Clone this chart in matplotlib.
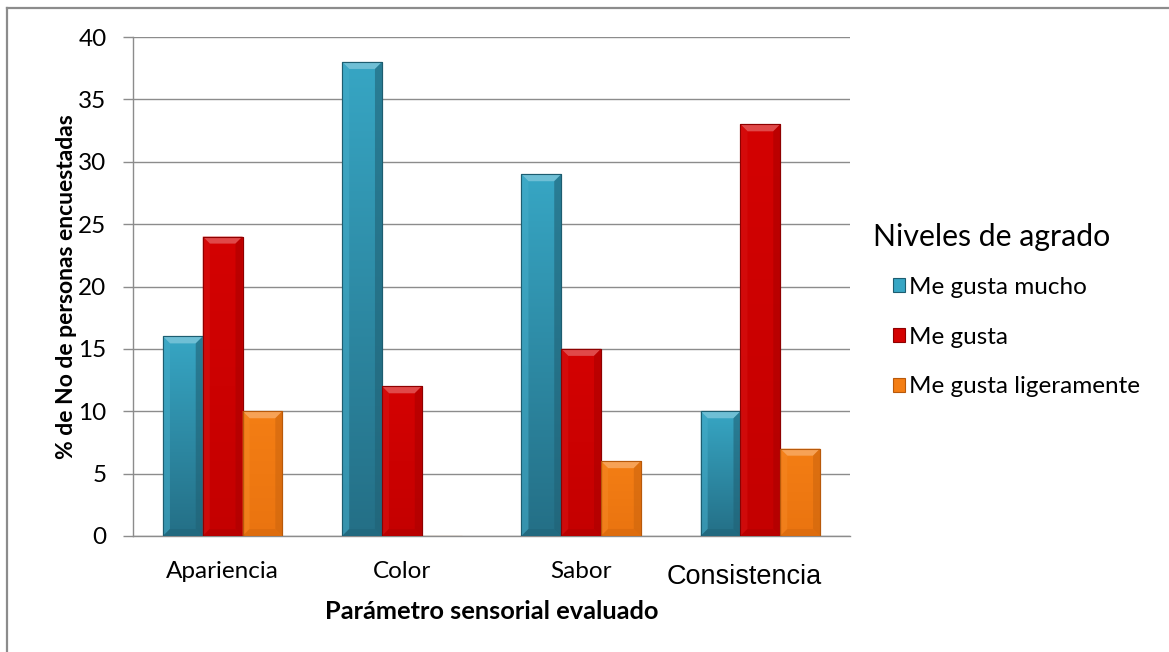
import matplotlib
matplotlib.use("Agg")
import matplotlib.pyplot as plt
import numpy as np
from matplotlib.patches import Patch, Polygon
from matplotlib.colors import LinearSegmentedColormap, to_rgb
from matplotlib.lines import Line2D
from matplotlib.transforms import ScaledTranslation

# Data
categories = ["Apariencia", "Color", "Sabor", "Consistencia"]
series_names = ["Me gusta mucho", "Me gusta", "Me gusta ligeramente"]
mucho = [16, 38, 29, 10]
gusta = [24, 12, 15, 33]
ligeramente = [10, 0, 6, 7]
series_values = [mucho, gusta, ligeramente]
legend_title = "Niveles de agrado"
y_label = "% de No de personas encuestadas"
x_label = "Parámetro sensorial evaluado"
y_ticks = [0, 5, 10, 15, 20, 25, 30, 35, 40]

# Styling: (top colour, bottom colour, edge colour) for each series
styles = [
    ("#37a6c4", "#246f86", "#1d5d70"),
    ("#d40202", "#c40000", "#8e0000"),
    ("#f47e14", "#ea7410", "#b8590a"),
]

plt.rcParams["font.family"] = ["Lato", "DejaVu Sans"]

W, H = 1169, 652
fig = plt.figure(figsize=(W / 100, H / 100), dpi=100)
fig.patch.set_facecolor("white")
ax = fig.add_axes([133 / W, 1 - 536 / H, (850 - 133) / W, (536 - 37) / H])

# Outer frame (left and top edges)
fig.add_artist(Line2D([7 / W, 7 / W], [0, 1 - 8 / H], transform=fig.transFigure,
                      color="#8c8c8c", lw=1.6))
fig.add_artist(Line2D([7 / W, 1], [1 - 8 / H, 1 - 8 / H], transform=fig.transFigure,
                      color="#8c8c8c", lw=1.6))

n_series = len(series_values)
bar_w = 0.222
x = np.arange(len(categories))
ax.set_xlim(-0.5, len(categories) - 0.5)
ax.set_ylim(0, 40)

# px -> data conversions for the bevel size
px_per_x = (850 - 133) / len(categories)
px_per_y = (536 - 37) / 40.0
bev_px = 7.0
bev_x = bev_px / px_per_x
bev_y = bev_px / px_per_y


def lighten(c, f):
    r = np.array(to_rgb(c))
    return tuple(r + (1 - r) * f)


def darken(c, f):
    r = np.array(to_rgb(c))
    return tuple(r * (1 - f))


for i, (vals, (ctop, cbot, cedge)) in enumerate(zip(series_values, styles)):
    offs = (i - (n_series - 1) / 2) * bar_w
    bars = ax.bar(x + offs, vals, width=bar_w, color=cbot, edgecolor=cedge,
                  linewidth=0.8, zorder=3, label=series_names[i])
    cmap = LinearSegmentedColormap.from_list(f"g{i}", [cbot, ctop])
    grad = np.linspace(0, 1, 256).reshape(-1, 1)
    for xc, v, b in zip(x + offs, vals, bars):
        if v <= 0:
            continue
        x0, x1 = xc - bar_w / 2, xc + bar_w / 2
        im = ax.imshow(grad, cmap=cmap, origin="lower", aspect="auto",
                       extent=(x0, x1, 0, v), zorder=3.1)
        im.set_clip_path(b)
        bh = min(bev_y, v / 2)
        # top bevel
        ax.add_patch(Polygon([(x0, v), (x1, v), (x1 - bev_x, v - bh), (x0 + bev_x, v - bh)],
                             closed=True, facecolor=lighten(ctop, 0.28), edgecolor="none",
                             zorder=3.2))
        # left and right bevels
        ax.add_patch(Polygon([(x0, 0), (x0, v), (x0 + bev_x, v - bh), (x0 + bev_x, bh)],
                             closed=True, facecolor=lighten(ctop, 0.06), edgecolor="none",
                             alpha=0.6, zorder=3.2))
        ax.add_patch(Polygon([(x1, 0), (x1, v), (x1 - bev_x, v - bh), (x1 - bev_x, bh)],
                             closed=True, facecolor=darken(cbot, 0.12), edgecolor="none",
                             alpha=0.6, zorder=3.2))
        # bottom bevel
        ax.add_patch(Polygon([(x0, 0), (x1, 0), (x1 - bev_x, bh), (x0 + bev_x, bh)],
                             closed=True, facecolor=darken(cbot, 0.1), edgecolor="none",
                             alpha=0.5, zorder=3.2))
        ax.add_patch(Polygon([(x0, 0), (x0, v), (x1, v), (x1, 0)], closed=True,
                             facecolor="none", edgecolor=cedge, linewidth=0.8, zorder=3.3))

# Axes styling
ax.set_yticks(y_ticks)
ax.set_yticklabels([str(t) for t in y_ticks])
ax.yaxis.grid(True, color="#8c8c8c", linewidth=1.0, zorder=0)
ax.set_axisbelow(True)
for s in ["top", "right"]:
    ax.spines[s].set_visible(False)
ax.spines["left"].set_color("#8c8c8c")
ax.spines["bottom"].set_color("#8c8c8c")
ax.spines["left"].set_linewidth(1.0)
ax.spines["bottom"].set_linewidth(1.0)
ax.tick_params(axis="y", direction="out", length=7, width=1.0, color="#8c8c8c",
               labelsize=17.5, pad=12, labelcolor="black")
ax.tick_params(axis="x", length=0, pad=18, labelsize=17.5)
ax.set_xticks(x)
ax.set_xticklabels(categories)
for lbl in ax.get_xticklabels():
    if lbl.get_text() == "Consistencia":
        lbl.set_fontfamily(["Liberation Sans", "DejaVu Sans"])
        lbl.set_fontsize(19.5)
        lbl.set_transform(lbl.get_transform() +
                          ScaledTranslation(-16 / 100, -3 / 100, fig.dpi_scale_trans))

ax.set_ylabel(y_label, fontsize=16.5, fontweight="bold", labelpad=1)
ax.set_xlabel(x_label, fontsize=18.3, fontweight="bold", labelpad=7)

# Legend: title placed on its own, entries below it
fig.text(873 / W, 1 - 237 / H, legend_title, fontsize=21.8, va="center", ha="left")
handles = [Patch(facecolor=s[0], edgecolor=s[2], linewidth=0.8) for s in styles]
leg = fig.legend(handles, series_names, loc="upper left",
                 bbox_to_anchor=(893 / W, 1 - 277 / H), frameon=False,
                 fontsize=17.5, handlelength=0.5, handleheight=0.5,
                 handletextpad=0.15, labelspacing=1.18, borderaxespad=0, borderpad=0)

fig.savefig("out.png", dpi=100, facecolor="white")
